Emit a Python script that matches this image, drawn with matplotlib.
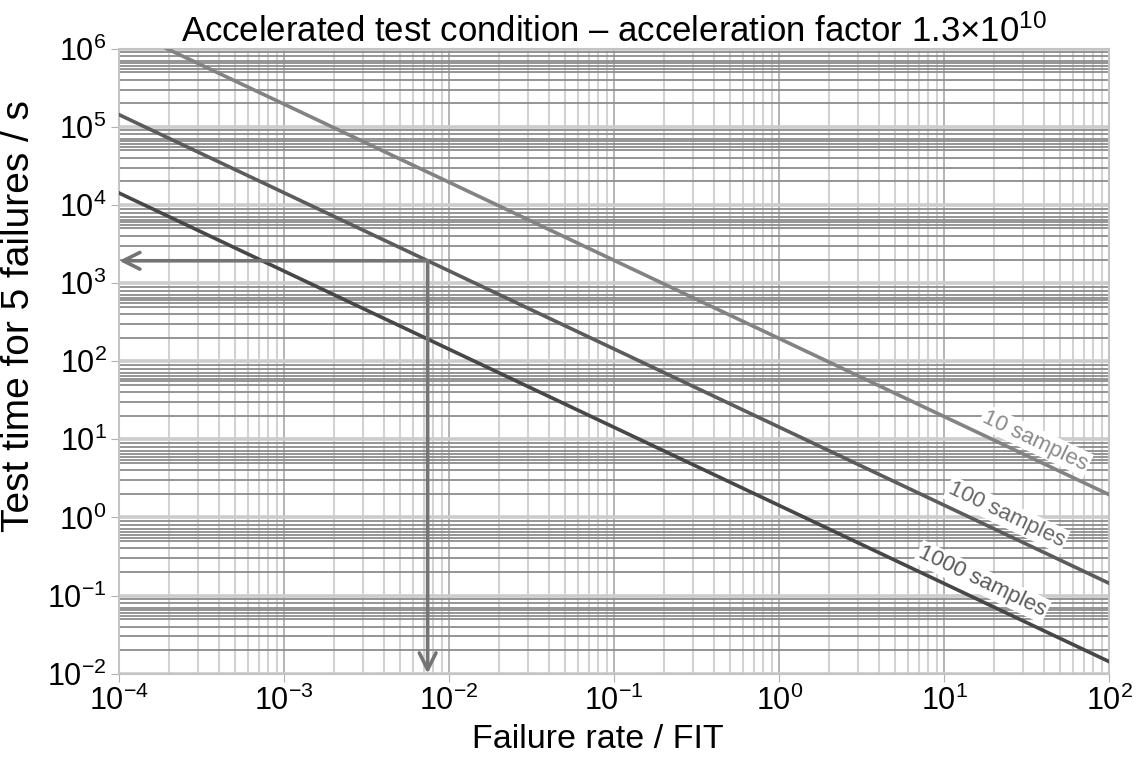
import numpy as np
import matplotlib.pyplot as plt
from matplotlib.ticker import LogLocator, NullFormatter

plt.rcParams['font.family'] = ['Liberation Sans', 'DejaVu Sans']
plt.rcParams['mathtext.fontset'] = 'custom'
plt.rcParams['mathtext.rm'] = 'Liberation Sans'
plt.rcParams['mathtext.it'] = 'Liberation Sans:italic'
plt.rcParams['mathtext.bf'] = 'Liberation Sans:bold'

# failure rate (FIT) end points and test time (s) for each sample count
rate = [1e-4, 1e2]
time_10 = [1.95e6, 1.95]
time_100 = [1.43e5, 0.143]
time_1000 = [1.42e4, 0.0142]
labels = ["10 samples", "100 samples", "1000 samples"]

# worked example read-off
ex_rate = 7.4e-3
ex_time = 1.93e3

fig = plt.figure(figsize=(11.46, 7.62), dpi=100)
ax = fig.add_axes([0.104, 0.116, 0.864, 0.820])
ax.set_xscale('log')
ax.set_yscale('log')
ax.set_xlim(1e-4, 1e2)
ax.set_ylim(1e-2, 1e6)

# grid: light vertical lines, darker horizontal minor lines
ax.xaxis.set_minor_locator(LogLocator(base=10, subs=np.arange(2, 10), numticks=20))
ax.yaxis.set_minor_locator(LogLocator(base=10, subs=[2, 3, 4, 5, 5.5, 6, 6.5, 7, 8, 9], numticks=20))
ax.xaxis.set_minor_formatter(NullFormatter())
ax.yaxis.set_minor_formatter(NullFormatter())
ax.grid(True, which='minor', axis='x', color='#d2d2d2', lw=1.5)
ax.grid(True, which='major', axis='x', color='#b4b4b4', lw=1.4)
ax.grid(True, which='minor', axis='y', color='#8c8c8c', lw=1.3)
ax.grid(True, which='major', axis='y', color='#cccccc', lw=2.6)
ax.set_axisbelow(True)

for s in ax.spines.values():
    s.set_color('#c4c4c4')
    s.set_linewidth(1.5)
ax.tick_params(which='minor', length=0)
ax.tick_params(which='major', length=6, color='#b0b0b0', labelsize=22, pad=3)

colors = ['#838383', '#5c5c5c', '#474747']
for t, c in zip([time_10, time_100, time_1000], colors):
    ax.plot(rate, t, color=c, lw=2.6, zorder=3)

# example: read test time for 100 samples
arrow = dict(arrowstyle='->,head_length=0.6,head_width=0.3', color='#747474',
             lw=2.6, mutation_scale=20, shrinkA=0, shrinkB=0)
ax.annotate('', xy=(1e-4, ex_time), xytext=(ex_rate, ex_time), arrowprops=arrow, zorder=4)
ax.annotate('', xy=(ex_rate, 1e-2), xytext=(ex_rate, ex_time), arrowprops=arrow, zorder=4)

# labels along the lines
lab_pos = [(35.6, 9.6), (23.8, 1.08), (17.0, 0.15)]
lab_col = ['#8a8a8a', '#666666', '#5a5a5a']
for txt, (x, y), c in zip(labels, lab_pos, lab_col):
    ax.text(x, y, txt, rotation=-25.5, rotation_mode='anchor', ha='center', va='center',
            fontsize=16, color=c, zorder=5,
            bbox=dict(facecolor='white', edgecolor='none', pad=1.5))

ax.set_xlabel('Failure rate / FIT', fontsize=24.5)
ax.xaxis.set_label_coords(0.483, -0.08)
ax.set_ylabel('Test time for 5 failures / s', fontsize=28)
ax.yaxis.set_label_coords(-0.083, 0.573)
ax.set_title(r'Accelerated test condition – acceleration factor 1.3$\times$10$^{10}$',
             fontsize=25, pad=2)

fig.savefig('out.png', dpi=100)
